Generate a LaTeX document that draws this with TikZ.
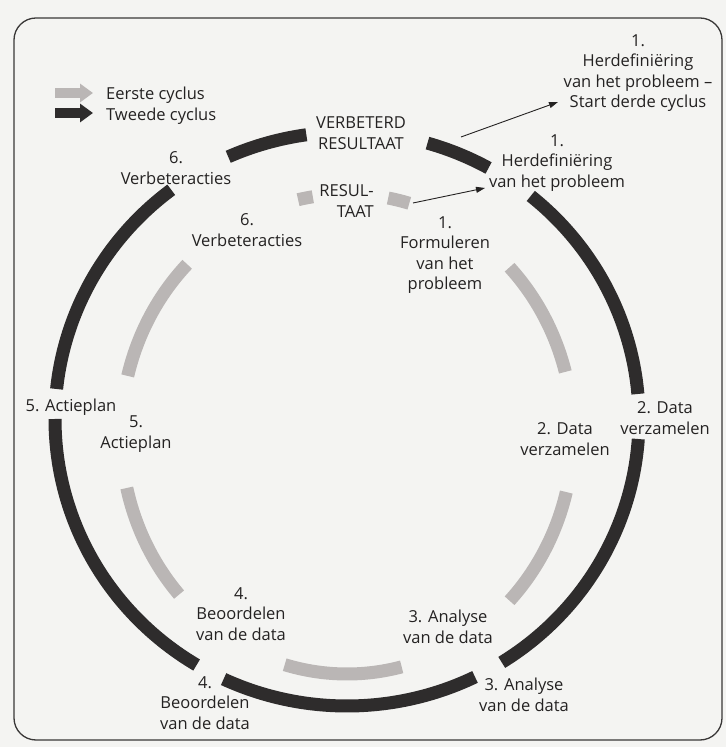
\documentclass[tikz,border=0pt]{standalone}
\usepackage{fontspec}
\setmainfont{Open Sans}
\usetikzlibrary{arrows.meta}
\definecolor{ink}{HTML}{242222}
\definecolor{cycone}{HTML}{BAB6B5}
\definecolor{cyctwo}{HTML}{2E2C2C}
\definecolor{paper}{HTML}{F4F4F2}
\definecolor{framec}{HTML}{3A3838}
\begin{document}
\begin{tikzpicture}[x=1pt,y=1pt,
  lbl/.style={font=\fontsize{16.5}{20.5}\selectfont, text=ink, align=center, inner sep=0pt},
  darkarc/.style={draw=cyctwo, line width=13pt},
  grayarc/.style={draw=cycone, line width=13pt},
  pointer/.style={draw=ink, line width=0.9pt, -{Triangle[length=9pt,width=6pt]}},
  legarrow/.style={line width=10pt, -{Triangle[length=13pt,width=18pt]}}]
\useasboundingbox (0,0) rectangle (726,747);
\fill[paper] (0,0) rectangle (726,747);
\draw[framec, line width=1.3pt, rounded corners=22pt] (14,7) rectangle (722,729);

\coordinate (C1) at (347,328);
\coordinate (C2) at (347,313);

% second cycle (dark, outer)
\foreach \s/\e in {98/114, 61/74, 5/51, -58/-4, -115/-64, 180/239, 127/174}
  \draw[darkarc] (C1) ++(\s:292 and 287) arc[start angle=\s, end angle=\e, x radius=292, y radius=287];

% first cycle (grey, inner)
\foreach \s/\e in {98.7/102.5, 74/79.5, 135/166, 15/44, -44/-14, 193/222, 254/284}
  \draw[grayarc] (C2) ++(\s:226 and 240) arc[start angle=\s, end angle=\e, x radius=226, y radius=240];

% legend
\draw[legarrow, cycone] (55,654) -- (93,654);
\draw[legarrow, cyctwo] (55,634) -- (93,634);
\node[lbl, anchor=base west] (leg1) at (106,647) {Eerste cyclus};
\node[lbl, anchor=base west] (leg2) at (106,626) {Tweede cyclus};

% labels
\node[lbl] (verb) at (361,614) {VERBETERD\\RESULTAAT};
\node[lbl, align=right, anchor=east] (resul) at (374,546) {RESUL-\\TAAT};
\node[lbl] (in6) at (247,517) {6.\\Verbeteracties};
\node[lbl] (out6) at (176,579) {6.\\Verbeteracties};
\node[lbl] (in1) at (445,492) {1.\\Formuleren\\van het\\probleem};
\node[lbl] (out1) at (557,584) {1.\\Herdefiniëring\\van het probleem};
\node[lbl] (top1) at (638,674) {1.\\Herdefiniëring\\van het probleem –\\Start derde cyclus};
\node[lbl] (out2) at (665,329) {2. Data\\verzamelen};
\node[lbl] (in2) at (565,308) {2. Data\\verzamelen};
\node[lbl] (out5) at (71,340) {5. Actieplan};
\node[lbl] (in5) at (136,313) {5.\\Actieplan};
\node[lbl] (in4) at (241,133) {4.\\Beoordelen\\van de data};
\node[lbl] (out4) at (205,44) {4.\\Beoordelen\\van de data};
\node[lbl] (in3) at (448,120) {3. Analyse\\van de data};
\node[lbl] (out3) at (524,52) {3. Analyse\\van de data};

% pointers
\coordinate (p1s) at (461,610);
\coordinate (p1e) at (558,645);
\draw[pointer] (p1s) -- (p1e);
\coordinate (p2s) at (413,544);
\coordinate (p2e) at (485,559);
\draw[pointer] (p2s) -- (p2e);
\end{tikzpicture}
\end{document}
